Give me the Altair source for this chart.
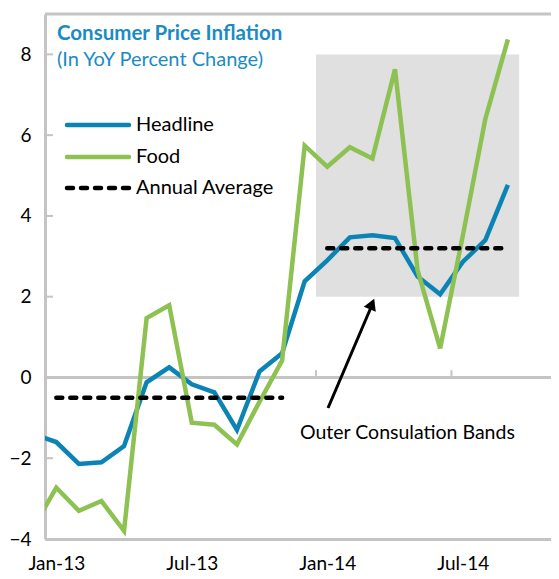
import altair as alt
import pandas as pd

# ---------------- data ----------------
month_labels = ["Dec-12", "Jan-13", "Feb-13", "Mar-13", "Apr-13", "May-13", "Jun-13",
                "Jul-13", "Aug-13", "Sep-13", "Oct-13", "Nov-13", "Dec-13",
                "Jan-14", "Feb-14", "Mar-14", "Apr-14", "May-14", "Jun-14",
                "Jul-14", "Aug-14", "Sep-14"]
month_idx = list(range(-1, 21))  # Jan-13 = 0
headline = [-1.4, -1.6, -2.14, -2.1, -1.7, -0.12, 0.25, -0.17, -0.37, -1.3, 0.15, 0.6,
            2.38, 2.9, 3.47, 3.52, 3.45, 2.5, 2.06, 2.86, 3.4, 4.77]
food = [-3.7, -2.73, -3.3, -3.06, -3.8, 1.47, 1.79, -1.12, -1.17, -1.66, -0.6, 0.42,
        5.74, 5.22, 5.7, 5.42, 7.63, 2.66, 0.72, 3.5, 6.4, 8.37]

avg_start = [0, 12]
avg_end = [10, 20]
avg_value = [-0.5, 3.2]

band_x = [11.5]
band_x2 = [20.5]
band_y = [2]
band_y2 = [8]

x_tick_pos = [0, 6, 12, 18]
x_tick_labels = ["Jan-13", "Jul-13", "Jan-14", "Jul-14"]
x_boundaries = [-0.5, 5.5, 11.5, 17.5]
y_ticks = [-4, -2, 0, 2, 4, 6, 8]

series_names = ["Headline", "Food"]
legend_labels = ["Headline", "Food", "Annual Average"]
title_text = "Consumer Price Inflation"
subtitle_text = "(In YoY Percent Change)"
annotation_text = "Outer Consulation Bands"

# ---------------- style ----------------
FONT = "Lato"
BLUE = "#0b84b5"
GREEN = "#8dc152"
GRAY = "#c4c4c4"
TITLE_BLUE = "#1a8bc4"
W, H = 506, 525
PX_PER_MONTH = 22.58

lines_df = pd.DataFrame({
    "m": month_idx * 2,
    "v": headline + food,
    "s": ["Headline"] * len(month_idx) + ["Food"] * len(month_idx),
})
avg_df = pd.DataFrame({"m": avg_start, "m2": avg_end, "v": avg_value})
band_df = pd.DataFrame({"m": band_x, "m2": band_x2, "v": band_y, "v2": band_y2})
ytick_df = pd.DataFrame({"v": y_ticks})
xb_df = pd.DataFrame({"m": x_boundaries})
one = pd.DataFrame({"a": [0]})

label_expr = " : ".join(
    f"datum.value == {p} ? '{l}'" for p, l in zip(x_tick_pos, x_tick_labels)
) + " : ''"

x_scale = alt.Scale(domain=[-0.5, -0.5 + W / PX_PER_MONTH], nice=False, zero=False)
y_scale = alt.Scale(domain=[-4, 9], nice=False, zero=False)

x_axis = alt.Axis(values=x_tick_pos, labelExpr=label_expr, grid=False, ticks=False,
                  domainColor=GRAY, domainWidth=3, labelFontSize=19, labelFont=FONT,
                  labelColor="#000", labelPadding=15, title=None, labelFlush=False)
y_axis = alt.Axis(values=y_ticks, grid=False, ticks=False, domainColor=GRAY,
                  domainWidth=3, labelFontSize=19, labelFont=FONT, labelColor="#000",
                  labelPadding=14, title=None, labelFlush=False)

band = alt.Chart(band_df).mark_rect(color="#e0e0e0").encode(
    x=alt.X("m:Q", scale=x_scale, axis=x_axis),
    x2="m2:Q",
    y=alt.Y("v:Q", scale=y_scale, axis=y_axis),
    y2="v2:Q",
)

zero_line = alt.Chart(one).mark_rule(color=GRAY, strokeWidth=3).encode(y=alt.datum(0))

zero_ticks = alt.Chart(xb_df).mark_rule(color=GRAY, strokeWidth=2).encode(
    x="m:Q", y=alt.datum(0), y2=alt.datum(0.18)
)

y_inner_ticks = alt.Chart(ytick_df).mark_rule(color=GRAY, strokeWidth=2).encode(
    y="v:Q", x=alt.value(0), x2=alt.value(8)
)

top_border = alt.Chart(one).mark_rule(color=GRAY, strokeWidth=3).encode(
    y=alt.value(0), x=alt.value(0), x2=alt.value(W)
)

headline_line = alt.Chart(lines_df[lines_df.s == "Headline"]).mark_line(
    strokeWidth=4.5, clip=True, color=BLUE).encode(x="m:Q", y="v:Q")
food_line = alt.Chart(lines_df[lines_df.s == "Food"]).mark_line(
    strokeWidth=4.5, clip=True, color=GREEN).encode(x="m:Q", y="v:Q")

avg = alt.Chart(avg_df).mark_rule(color="#000", strokeWidth=4.5, strokeDash=[6, 8],
                                  strokeCap="round").encode(
    x="m:Q", x2="m2:Q", y="v:Q"
)

# legend
leg_y = [111, 143, 174]
leg_blue = alt.Chart(one).mark_rule(color=BLUE, strokeWidth=4.5, strokeCap="round").encode(
    x=alt.value(22), x2=alt.value(84), y=alt.value(leg_y[0]))
leg_green = alt.Chart(one).mark_rule(color=GREEN, strokeWidth=4.5, strokeCap="round").encode(
    x=alt.value(22), x2=alt.value(84), y=alt.value(leg_y[1]))
leg_avg = alt.Chart(one).mark_rule(color="#000", strokeWidth=4.5, strokeCap="round",
                                   strokeDash=[6, 8]).encode(
    x=alt.value(22), x2=alt.value(86), y=alt.value(leg_y[2]))
leg_texts = [
    alt.Chart(one).mark_text(align="left", baseline="middle", fontSize=20, font=FONT,
                             color="#000").encode(
        x=alt.value(91), y=alt.value(yy), text=alt.value(lbl))
    for yy, lbl in zip(leg_y, legend_labels)
]

title = alt.Chart(one).mark_text(align="left", baseline="middle", fontSize=20.5, font=FONT,
                                 fontWeight="bold", color=TITLE_BLUE).encode(
    x=alt.value(12), y=alt.value(20), text=alt.value(title_text))
subtitle = alt.Chart(one).mark_text(align="left", baseline="middle", fontSize=20, font=FONT,
                                    color=TITLE_BLUE).encode(
    x=alt.value(12), y=alt.value(46), text=alt.value(subtitle_text))

annot = alt.Chart(one).mark_text(align="left", baseline="middle", fontSize=19.5, font=FONT,
                                 color="#000").encode(
    x=alt.value(255), y=alt.value(419), text=alt.value(annotation_text))
arrow_shaft = alt.Chart(one).mark_rule(color="#000", strokeWidth=3).encode(
    x=alt.value(283), y=alt.value(394), x2=alt.value(327), y2=alt.value(291))
arrow_head = alt.Chart(one).mark_point(shape="triangle-up", filled=True, color="#000",
                                       size=170, angle=23, opacity=1).encode(
    x=alt.value(327), y=alt.value(290))

chart = alt.layer(
    band, zero_line, zero_ticks, y_inner_ticks, top_border,
    headline_line, food_line, avg,
    leg_blue, leg_green, leg_avg, *leg_texts,
    title, subtitle, annot, arrow_shaft, arrow_head,
).properties(
    width=W, height=H,
    padding={"left": 37, "top": 6, "right": 0, "bottom": 40},
    autosize=alt.AutoSizeParams(type="none"),
).configure_view(stroke=None).configure(background="white")

chart.save("out.html", embed_options={"renderer": "svg", "actions": False})
